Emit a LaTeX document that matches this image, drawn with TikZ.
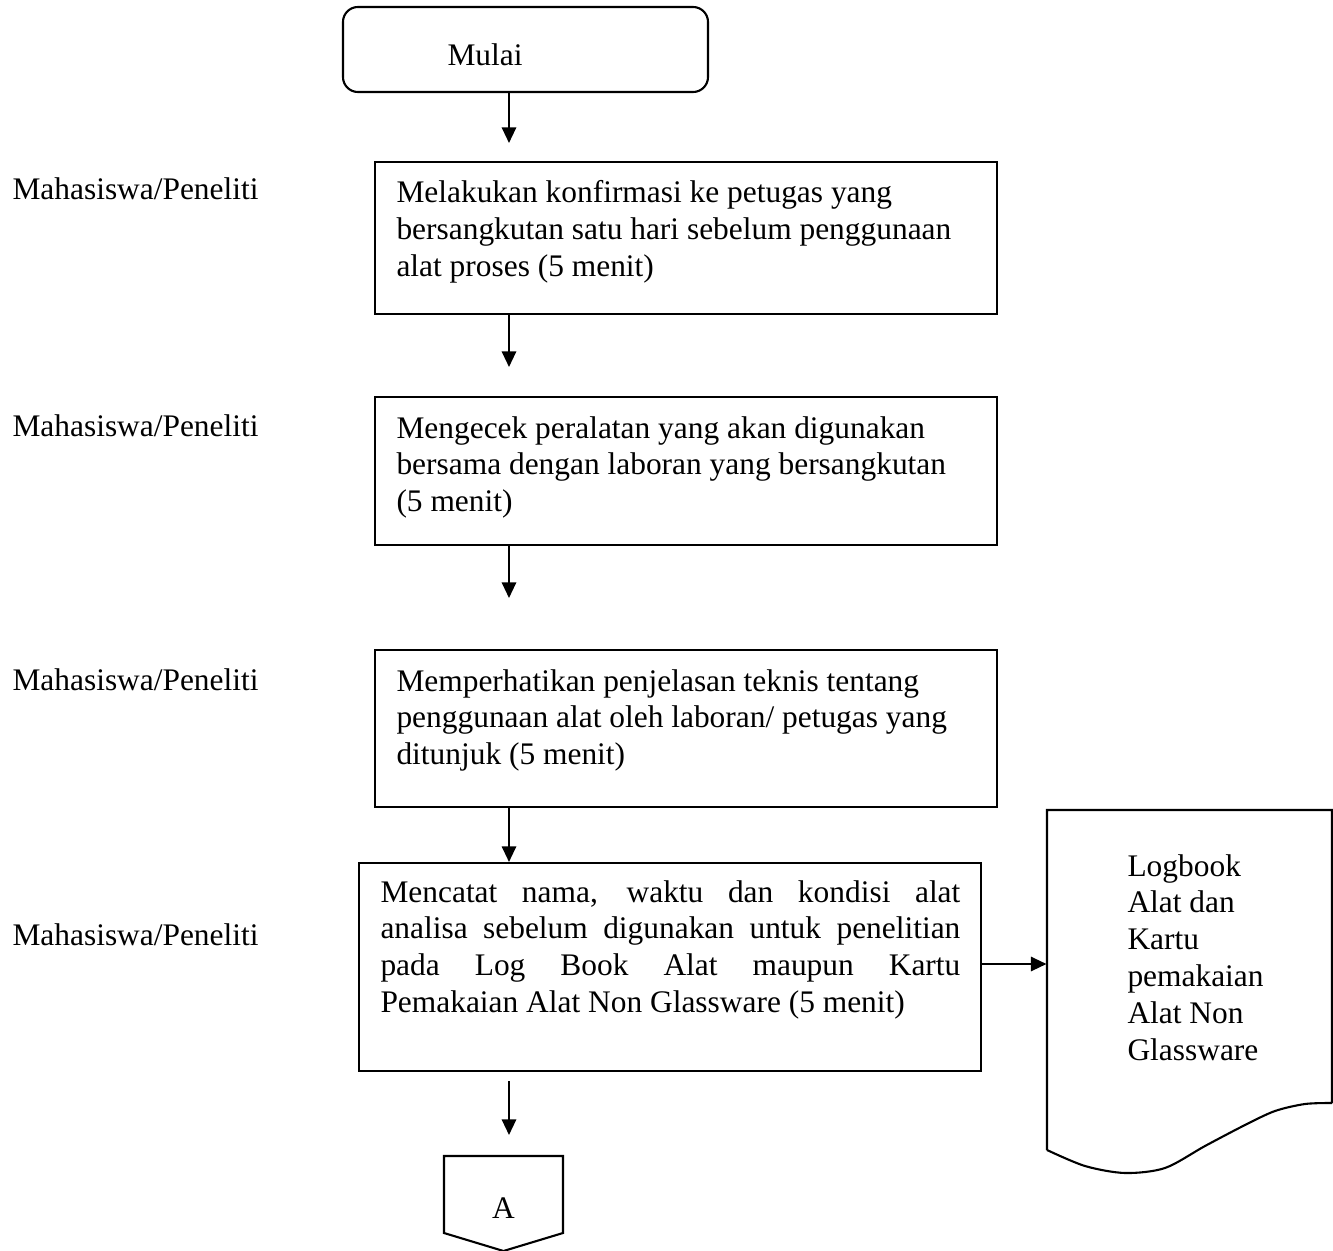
\documentclass[tikz,border=0pt]{standalone}
\usepackage{fontspec}
\setmainfont{Liberation Serif}
\usetikzlibrary{arrows.meta,fit}
\begin{document}
\begin{tikzpicture}[x=0.382pt,y=-0.382pt,
  every node/.style={font=\fontsize{12}{14.1}\selectfont},
  boxline/.style={draw, line width=0.8pt, inner sep=0pt},
  txt/.style={anchor=base west, inner sep=0pt},
  flowarrow/.style={line width=0.8pt, -{Triangle[length=6pt,width=5.5pt]}},
  lbl/.style={anchor=base west, inner sep=0pt}]
\useasboundingbox (0,0) rectangle (1333,1251);

% start
\node[draw, line width=0.8pt, rounded corners=5.7pt, inner sep=0pt, fit={(343,7) (708,92)}] (start) {};
\node[txt] (tstart) at (447,66) {Mulai};

% boxes
\node[boxline, fit={(375,162) (997,314)}] (b1) {};
\node[boxline, fit={(375,397) (997,545)}] (b2) {};
\node[boxline, fit={(375,650) (997,807)}] (b3) {};
\node[boxline, fit={(359,863) (981,1071)}] (b4) {};

\node[txt] (t1) at (396,203) {\parbox[t]{230pt}{\raggedright Melakukan konfirmasi ke petugas yang\\ bersangkutan satu hari sebelum penggunaan\\ alat proses (5 menit)}};
\node[txt] (t2) at (396,438) {\parbox[t]{230pt}{\raggedright Mengecek peralatan yang akan digunakan\\ bersama dengan laboran yang bersangkutan\\ (5 menit)}};
\node[txt] (t3) at (396,691) {\parbox[t]{230pt}{\raggedright Memperhatikan penjelasan teknis tentang\\ penggunaan alat oleh laboran/ petugas yang\\ ditunjuk (5 menit)}};
\node[txt] (t4) at (380,902) {\parbox[t]{221.5pt}{Mencatat nama, waktu dan kondisi alat\linebreak analisa sebelum digunakan untuk penelitian\linebreak pada Log Book Alat maupun Kartu\linebreak Pemakaian Alat Non Glassware (5 menit)}};

% labels
\node[lbl] (l1) at (12,199) {Mahasiswa/Peneliti};
\node[lbl] (l2) at (12,436) {Mahasiswa/Peneliti};
\node[lbl] (l3) at (12,690) {Mahasiswa/Peneliti};
\node[lbl] (l4) at (12,945) {Mahasiswa/Peneliti};

% document shape
\node[inner sep=0pt, fit={(1047,810) (1332,1173)}] (doc) {};
\draw[line width=0.8pt] (1332,1103) -- (1332,810) -- (1047,810) -- (1047,1150)
  plot[smooth] coordinates {(1047,1150) (1085,1166) (1125,1173) (1165,1168) (1205,1146) (1245,1125) (1275,1111) (1305,1104) (1332,1103)};
\node[txt] (tdoc) at (1127,876) {\parbox[t]{120pt}{\raggedright Logbook\\ Alat dan\\ Kartu\\ pemakaian\\ Alat Non\\ Glassware}};

% off-page connector A
\node[inner sep=0pt, fit={(444,1156) (563,1251)}] (A) {};
\draw[line width=0.8pt] (444,1156) -- (563,1156) -- (563,1233) -- (503.5,1251) -- (444,1233) -- cycle;
\node[anchor=base, inner sep=0pt] (tA) at (503.5,1218) {A};

% arrow end coordinates
\coordinate (e1) at (509,143);
\coordinate (e2) at (509,367);
\coordinate (e3) at (509,598);
\coordinate (e5) at (509,1135);
\coordinate (s5) at (509,1081);
\coordinate (ya) at (0,964);

\draw[flowarrow] (start.south -| e1) -- (e1);
\draw[flowarrow] (b1.south -| e2) -- (e2);
\draw[flowarrow] (b2.south -| e3) -- (e3);
\draw[flowarrow] (b3.south -| e1) -- (b4.north -| e1);
\draw[flowarrow] (s5) -- (e5);
\draw[flowarrow] (b4.east |- ya) -- (doc.west |- ya);
\end{tikzpicture}
\end{document}
